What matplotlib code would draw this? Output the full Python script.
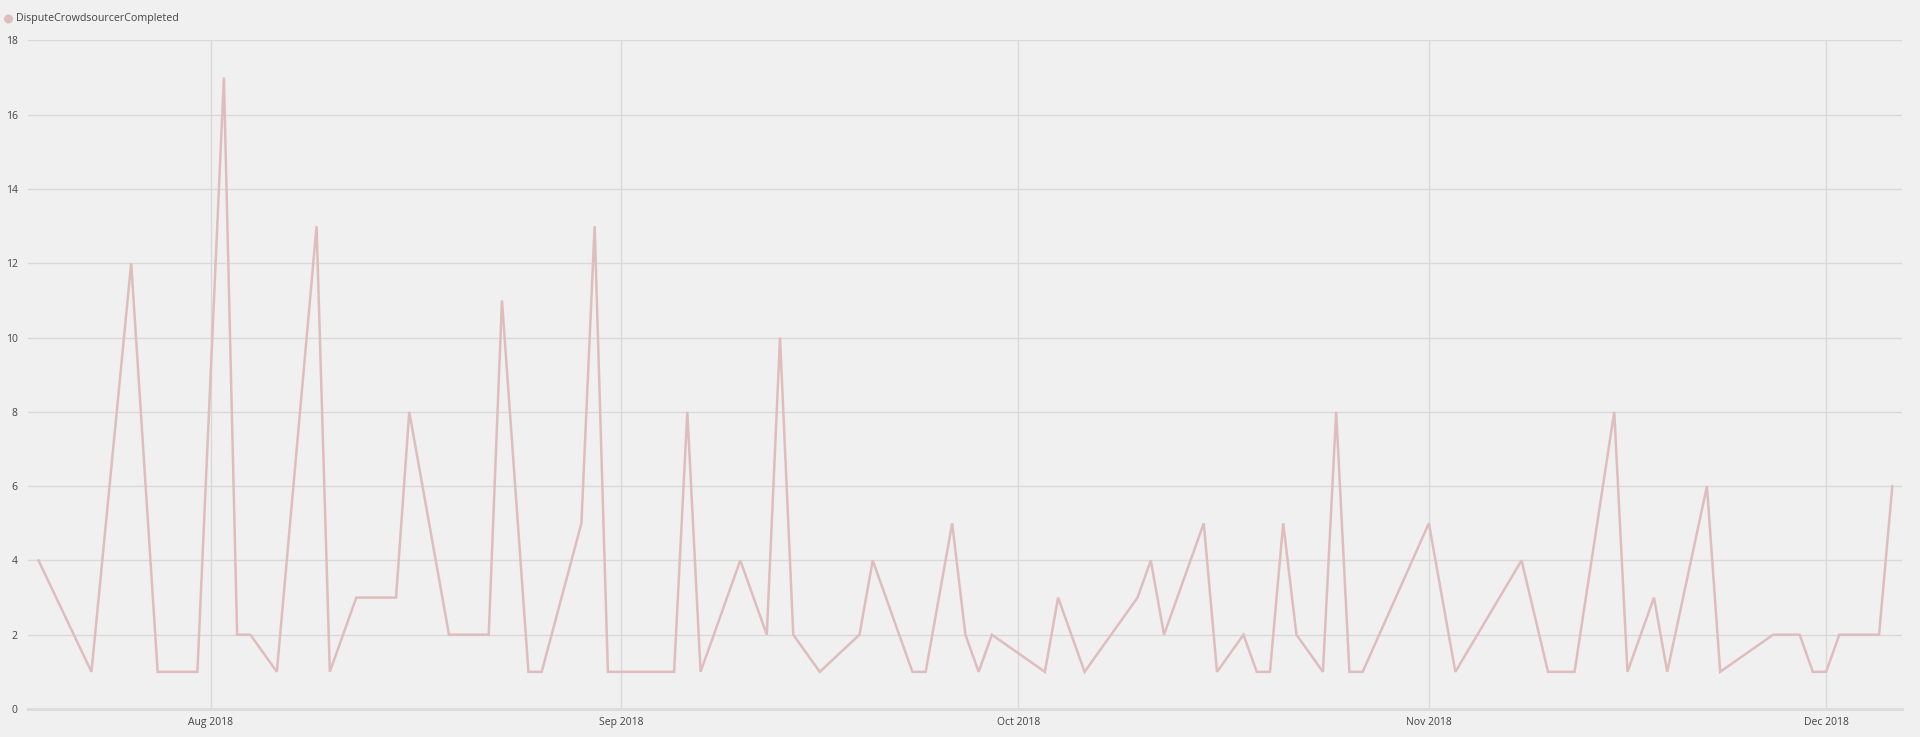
import matplotlib
matplotlib.use("Agg")
import matplotlib.pyplot as plt
import matplotlib.dates as mdates
import pandas as pd

plt.rcParams['font.family'] = ['Open Sans', 'DejaVu Sans']

dates = [
    "2018-07-19", "2018-07-23", "2018-07-26", "2018-07-28", "2018-07-31",
    "2018-08-02", "2018-08-03", "2018-08-04", "2018-08-06", "2018-08-09",
    "2018-08-10", "2018-08-12", "2018-08-15", "2018-08-16", "2018-08-19",
    "2018-08-22", "2018-08-23", "2018-08-25", "2018-08-26", "2018-08-29",
    "2018-08-30", "2018-08-31", "2018-09-05", "2018-09-06", "2018-09-07",
    "2018-09-10", "2018-09-12", "2018-09-13", "2018-09-14", "2018-09-16",
    "2018-09-19", "2018-09-20", "2018-09-23", "2018-09-24", "2018-09-26",
    "2018-09-27", "2018-09-28", "2018-09-29", "2018-10-03", "2018-10-04",
    "2018-10-06", "2018-10-10", "2018-10-11", "2018-10-12", "2018-10-15",
    "2018-10-16", "2018-10-18", "2018-10-19", "2018-10-20", "2018-10-21",
    "2018-10-22", "2018-10-24", "2018-10-25", "2018-10-26", "2018-10-27",
    "2018-11-01", "2018-11-03", "2018-11-08", "2018-11-10", "2018-11-12",
    "2018-11-15", "2018-11-16", "2018-11-18", "2018-11-19", "2018-11-22",
    "2018-11-23", "2018-11-27", "2018-11-29", "2018-11-30", "2018-12-01",
    "2018-12-02", "2018-12-05", "2018-12-06",
]
values = [
    4, 1, 12, 1, 1,
    17, 2, 2, 1, 13,
    1, 3, 3, 8, 2,
    2, 11, 1, 1, 5,
    13, 1, 1, 8, 1,
    4, 2, 10, 2, 1,
    2, 4, 1, 1, 5,
    2, 1, 2, 1, 3,
    1, 3, 4, 2, 5,
    1, 2, 1, 1, 5,
    2, 1, 8, 1, 1,
    5, 1, 4, 1, 1,
    8, 1, 3, 1, 6,
    1, 2, 2, 1, 1,
    2, 2, 6,
]
series_name = "DisputeCrowdsourcerCompleted"
y_ticks = [0, 2, 4, 6, 8, 10, 12, 14, 16, 18]

x = pd.to_datetime(dates)

W, H = 1920, 737
fig = plt.figure(figsize=(W / 100, H / 100), dpi=100)
bg = "#f0f0f0"
fig.patch.set_facecolor(bg)
ax = fig.add_axes([28.2 / W, 1 - 709 / H, (1901.7 - 28.2) / W, (709 - 40.4) / H])
ax.set_facecolor(bg)

line_color = "#dfbdbd"
ax.plot(x, values, color=line_color, lw=1.8, solid_joinstyle="miter", zorder=3)

ax.set_ylim(0, 18)
ax.set_yticks(y_ticks)
ax.set_xlim(pd.Timestamp("2018-07-18 05:20"), pd.Timestamp("2018-12-06 17:00"))
ax.xaxis.set_major_locator(mdates.MonthLocator())
ax.xaxis.set_major_formatter(mdates.DateFormatter("%b %Y"))

for s in ax.spines.values():
    s.set_visible(False)
ax.grid(True, axis="both", color="#d9d9d9", lw=1.0, zorder=1)
ax.axhline(0, color="#dcdcdc", lw=2.2, zorder=2, clip_on=False)
ax.tick_params(axis="both", length=0, labelsize=7.5, labelcolor="#444444")
ax.tick_params(axis="y", pad=7.5)
ax.tick_params(axis="x", pad=6)

# legend
fig.patches.append(matplotlib.patches.Ellipse((8.5 / W, 1 - 19 / H), 9 / W, 9 / H,
                                              transform=fig.transFigure,
                                              facecolor=line_color, edgecolor="none"))
fig.text(16 / W, 1 - 19 / H, series_name, fontsize=7.7, color="#444444",
         va="center", ha="left")

fig.savefig("out.png", dpi=100, facecolor=bg)
